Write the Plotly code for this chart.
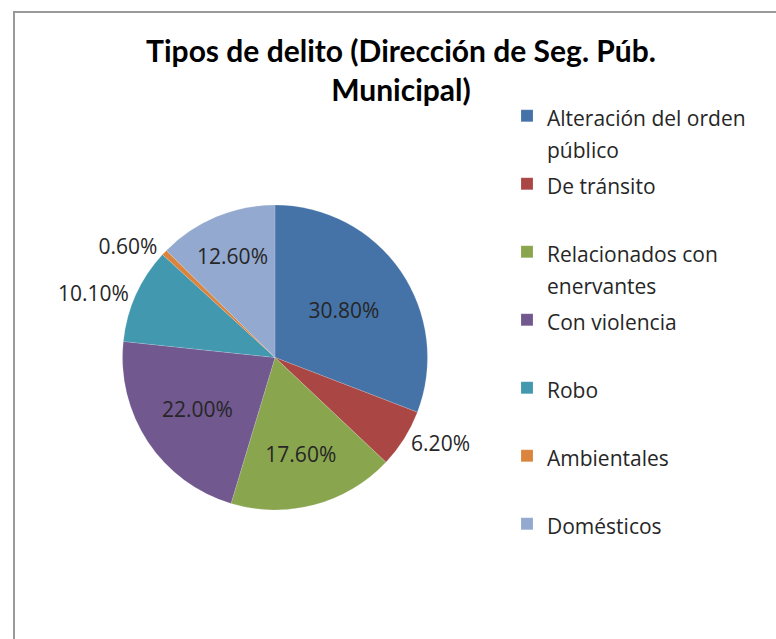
import plotly.graph_objects as go

categories = ["Alteración del orden<br>público", "De tránsito<br> ", "Relacionados con<br>enervantes",
              "Con violencia<br> ", "Robo<br> ", "Ambientales<br> ", "Domésticos<br> "]
values = [30.8, 6.2, 17.6, 22.0, 10.1, 0.6, 12.6]
colors = ["#4573A7", "#AA4643", "#89A54E", "#71588F", "#4198AF", "#DB843D", "#93A9CF"]
text_positions = ["inside", "outside", "inside", "inside", "outside", "outside", "inside"]

W, H = 776, 639

legend_labels = ['<span style="font-size:21px">' + c.replace("<br>", '</span><br><span style="font-size:21px">') + "</span>"
                 for c in categories]

fig = go.Figure(go.Pie(
    labels=legend_labels,
    values=values,
    sort=False,
    direction="clockwise",
    rotation=0,
    marker=dict(colors=colors, line=dict(color="rgba(255,255,255,0.3)", width=0.5)),
    texttemplate="%{value:.2f}%",
    textinfo="text",
    textposition=text_positions,
    insidetextorientation="horizontal",
    textfont=dict(family="Open Sans", size=21, color="#262626"),
    insidetextfont=dict(family="Open Sans", size=21, color="#262626"),
    outsidetextfont=dict(family="Open Sans", size=21, color="#262626"),
    domain=dict(x=[67 / W, 483 / W], y=[1 - 510 / H, 1 - 205 / H]),
    hoverinfo="percent",
))

fig.update_layout(
    width=W, height=H,
    margin=dict(l=0, r=0, t=0, b=0, autoexpand=False),
    paper_bgcolor="white",
    title=dict(
        text="Tipos de delito (Dirección de Seg. Púb.<br>Municipal)",
        font=dict(family="Lato", size=30, color="#000000", weight="bold"),
        x=401 / W, xanchor="center",
        y=1 - 62 / H, yanchor="top",
    ),
    legend=dict(
        x=507 / W, xanchor="left",
        y=1 - 93 / H, yanchor="top",
        font=dict(family="Open Sans", size=25, color="#262626"),
        bgcolor="rgba(0,0,0,0)",
        valign="top",
    ),
    shapes=[dict(type="rect", xref="paper", yref="paper",
                 x0=14 / W, x1=1.02, y0=-0.02, y1=1 - 12 / H,
                 line=dict(color="#9a9a9a", width=2))],
)

fig.write_html("out.html", config={"displayModeBar": False},
               post_script="document.body.style.margin='0';document.body.style.overflow='hidden';")
